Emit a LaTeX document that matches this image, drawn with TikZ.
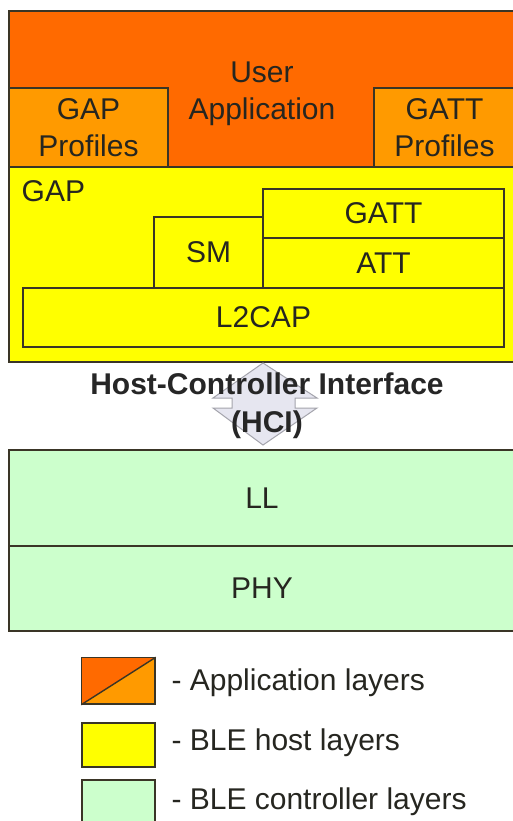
\documentclass[tikz,border=0pt]{standalone}
\usepackage{fontspec}
\setmainfont{Liberation Sans}

\definecolor{appdark}{HTML}{FF6A00}
\definecolor{applight}{HTML}{FF9A00}
\definecolor{hostyellow}{HTML}{FFFF00}
\definecolor{ctrlgreen}{HTML}{CCFFCC}
\definecolor{edgecol}{HTML}{3A3526}
\definecolor{txtcol}{HTML}{262620}
\definecolor{hcifill}{HTML}{E6E6F0}
\definecolor{hciedge}{HTML}{A4A4AC}

\tikzset{
  layer/.style={draw=edgecol, line width=1.4pt, inner sep=0pt, align=center,
    text=txtcol, font=\fontsize{30}{37}\selectfont},
  legbox/.style={layer, minimum width=73pt},
  legtext/.style={anchor=west, text=txtcol, font=\fontsize{30}{36}\selectfont}
}

\begin{document}
\begin{tikzpicture}[x=1pt,y=-1pt]

  \useasboundingbox[fill=white] (0,0) rectangle (512,821);

  % application layers
  \node[layer, fill=appdark, minimum width=506pt, minimum height=156pt] (userapp) at (262,89) {};
  \node[layer, draw=none] (userlabel) at (262,94) {User\\Application};
  \node[layer, fill=applight, minimum width=159pt, minimum height=79pt] (gapprof) at (88.5,127.5) {GAP\\Profiles};
  \node[layer, fill=applight, minimum width=141pt, minimum height=79pt] (gattprof) at (444.5,127.5) {GATT\\Profiles};

  % host layers
  \node[layer, fill=hostyellow, minimum width=506pt, minimum height=195pt] (gap) at (262,264.5) {};
  \node[layer, draw=none, anchor=west] (gaplabel) at (21,191) {GAP};
  \node[layer, fill=hostyellow, minimum width=241pt, minimum height=49pt] (gatt) at (383.5,213.5) {GATT};
  \node[layer, fill=hostyellow, minimum width=241pt, minimum height=50pt] (att) at (383.5,263) {ATT};
  \node[layer, fill=hostyellow, minimum width=109pt, minimum height=71pt] (sm) at (208.5,252.5) {SM};
  \node[layer, fill=hostyellow, minimum width=481pt, minimum height=59pt] (l2cap) at (263.5,317.5) {L2CAP};

  % controller layers
  \node[layer, fill=ctrlgreen, minimum width=506pt, minimum height=96pt] (ll) at (262,498) {LL};
  \node[layer, fill=ctrlgreen, minimum width=506pt, minimum height=85pt] (phy) at (262,588.5) {PHY};

  % HCI
  \draw[fill=hcifill, draw=hciedge, line width=1pt]
    (263,363) -- (317,398) -- (295,398) -- (295,408) -- (317,408) -- (263,445)
    -- (213,408) -- (232,408) -- (232,398) -- (213,398) -- cycle;
  \node[align=center, text=black!85, font=\fontsize{30}{38}\selectfont\bfseries] (hci) at (267,406)
    {Host-Controller Interface\\(HCI)};

  % legend
  \node[legbox, fill=applight, minimum height=46pt] (leg1) at (118.5,681) {};
  \fill[appdark] (leg1.south west) -- (leg1.north west) -- (leg1.north east) -- cycle;
  \draw[draw=edgecol, line width=1.4pt] (leg1.south west) rectangle (leg1.north east);
  \draw[draw=edgecol, line width=1.4pt] (leg1.south west) -- (leg1.north east);
  \node[legbox, fill=hostyellow, minimum height=44pt] (leg2) at (118.5,745) {};
  \node[legbox, fill=ctrlgreen, minimum height=46pt] (leg3) at (118.5,803) {};

  \node[legtext] (t1) at (168,683) {- Application layers};
  \node[legtext] (t2) at (168,743) {- BLE host layers};
  \node[legtext] (t3) at (168,802) {- BLE controller layers};

\end{tikzpicture}
\end{document}
